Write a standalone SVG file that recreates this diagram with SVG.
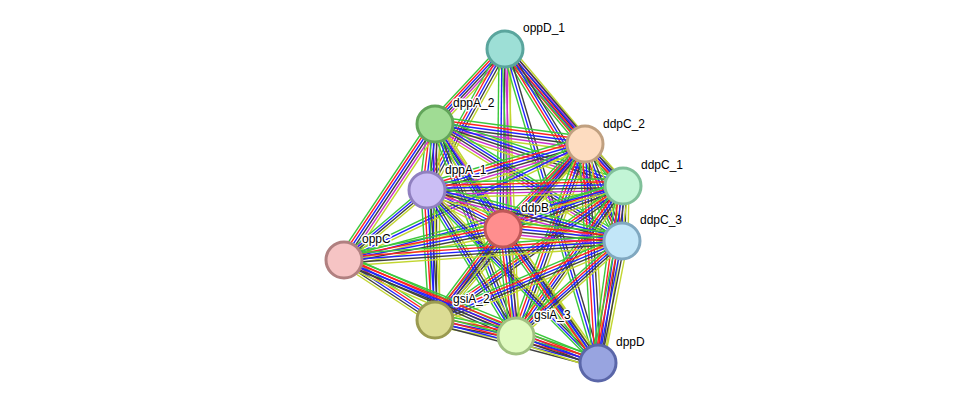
<svg xmlns="http://www.w3.org/2000/svg" width="976" height="409" viewBox="0 0 976 409">
<style>
.g{stroke:#3cc83c}.r{stroke:#ff2222}.b{stroke:#2222ff}.k{stroke:#404040}.m{stroke:#cc33cc}.y{stroke:#c2d630}
.n circle{stroke-width:3}
text{font-family:"Liberation Sans",Arial,sans-serif;font-size:12px;fill:#000;paint-order:stroke;stroke:#fff;stroke-width:3px;stroke-linejoin:round}
</style>
<defs>
<line id="e1" x1="505" y1="49" x2="435" y2="124"/>
<line id="e2" x1="505" y1="49" x2="585" y2="144"/>
<line id="e3" x1="505" y1="49" x2="623" y2="186"/>
<line id="e4" x1="505" y1="49" x2="427" y2="190"/>
<line id="e5" x1="505" y1="49" x2="503" y2="229"/>
<line id="e6" x1="505" y1="49" x2="622" y2="241"/>
<line id="e9" x1="505" y1="49" x2="516" y2="336"/>
<line id="e10" x1="505" y1="49" x2="598" y2="363"/>
<line id="e11" x1="435" y1="124" x2="585" y2="144"/>
<line id="e12" x1="435" y1="124" x2="623" y2="186"/>
<line id="e13" x1="435" y1="124" x2="427" y2="190"/>
<line id="e14" x1="435" y1="124" x2="503" y2="229"/>
<line id="e15" x1="435" y1="124" x2="622" y2="241"/>
<line id="e16" x1="435" y1="124" x2="344" y2="260"/>
<line id="e17" x1="435" y1="124" x2="435" y2="320"/>
<line id="e18" x1="435" y1="124" x2="516" y2="336"/>
<line id="e19" x1="435" y1="124" x2="598" y2="363"/>
<line id="e20" x1="585" y1="144" x2="623" y2="186"/>
<line id="e21" x1="585" y1="144" x2="427" y2="190"/>
<line id="e22" x1="585" y1="144" x2="503" y2="229"/>
<line id="e23" x1="585" y1="144" x2="622" y2="241"/>
<line id="e24" x1="585" y1="144" x2="344" y2="260"/>
<line id="e25" x1="585" y1="144" x2="435" y2="320"/>
<line id="e26" x1="585" y1="144" x2="516" y2="336"/>
<line id="e27" x1="585" y1="144" x2="598" y2="363"/>
<line id="e28" x1="623" y1="186" x2="427" y2="190"/>
<line id="e29" x1="623" y1="186" x2="503" y2="229"/>
<line id="e30" x1="623" y1="186" x2="622" y2="241"/>
<line id="e31" x1="623" y1="186" x2="344" y2="260"/>
<line id="e32" x1="623" y1="186" x2="435" y2="320"/>
<line id="e33" x1="623" y1="186" x2="516" y2="336"/>
<line id="e34" x1="623" y1="186" x2="598" y2="363"/>
<line id="e35" x1="427" y1="190" x2="503" y2="229"/>
<line id="e36" x1="427" y1="190" x2="622" y2="241"/>
<line id="e37" x1="427" y1="190" x2="344" y2="260"/>
<line id="e38" x1="427" y1="190" x2="435" y2="320"/>
<line id="e39" x1="427" y1="190" x2="516" y2="336"/>
<line id="e40" x1="427" y1="190" x2="598" y2="363"/>
<line id="e41" x1="503" y1="229" x2="622" y2="241"/>
<line id="e42" x1="503" y1="229" x2="344" y2="260"/>
<line id="e43" x1="503" y1="229" x2="435" y2="320"/>
<line id="e44" x1="503" y1="229" x2="516" y2="336"/>
<line id="e45" x1="503" y1="229" x2="598" y2="363"/>
<line id="e46" x1="622" y1="241" x2="344" y2="260"/>
<line id="e47" x1="622" y1="241" x2="435" y2="320"/>
<line id="e48" x1="622" y1="241" x2="516" y2="336"/>
<line id="e49" x1="622" y1="241" x2="598" y2="363"/>
<line id="e50" x1="344" y1="260" x2="435" y2="320"/>
<line id="e51" x1="344" y1="260" x2="516" y2="336"/>
<line id="e52" x1="344" y1="260" x2="598" y2="363"/>
<line id="e53" x1="435" y1="320" x2="516" y2="336"/>
<line id="e54" x1="435" y1="320" x2="598" y2="363"/>
<line id="e55" x1="516" y1="336" x2="598" y2="363"/>
</defs>
<g id="connectors" fill="none" stroke-width="1.4">
<use href="#e1" class="g" x="-7.5"/><use href="#e1" class="r" x="-4.5"/><use href="#e1" class="b" x="-1.5"/><use href="#e1" class="k" x="1.5"/><use href="#e1" class="m" x="4.5"/><use href="#e1" class="y" x="7.5"/>
<use href="#e2" class="g" x="-7.5"/><use href="#e2" class="r" x="-4.5"/><use href="#e2" class="b" x="-1.5"/><use href="#e2" class="k" x="1.5"/><use href="#e2" class="m" x="4.5"/><use href="#e2" class="y" x="7.5"/>
<use href="#e3" class="g" x="-4.5"/><use href="#e3" class="r" x="-1.5"/><use href="#e3" class="b" x="1.5"/><use href="#e3" class="k" x="4.5"/>
<use href="#e4" class="g" x="-6"/><use href="#e4" class="r" x="-3"/><use href="#e4" class="b" x="0"/><use href="#e4" class="k" x="3"/><use href="#e4" class="y" x="6"/>
<use href="#e5" class="g" x="-6"/><use href="#e5" class="b" x="-3"/><use href="#e5" class="k" x="0"/><use href="#e5" class="m" x="3"/><use href="#e5" class="y" x="6"/>
<use href="#e6" class="g" x="-4.5"/><use href="#e6" class="r" x="-1.5"/><use href="#e6" class="b" x="1.5"/><use href="#e6" class="k" x="4.5"/>
<use href="#e9" class="g" x="-3"/><use href="#e9" class="m" x="0"/><use href="#e9" class="y" x="3"/>
<use href="#e10" class="g" x="-3"/><use href="#e10" class="b" x="0"/><use href="#e10" class="k" x="3"/>
<use href="#e11" class="g" y="-7.5"/><use href="#e11" class="r" y="-4.5"/><use href="#e11" class="b" y="-1.5"/><use href="#e11" class="k" y="1.5"/><use href="#e11" class="m" y="4.5"/><use href="#e11" class="y" y="7.5"/>
<use href="#e12" class="g" y="-6"/><use href="#e12" class="b" y="-3"/><use href="#e12" class="k" y="0"/><use href="#e12" class="m" y="3"/><use href="#e12" class="y" y="6"/>
<use href="#e13" class="g" x="-7.5"/><use href="#e13" class="r" x="-4.5"/><use href="#e13" class="b" x="-1.5"/><use href="#e13" class="k" x="1.5"/><use href="#e13" class="m" x="4.5"/><use href="#e13" class="y" x="7.5"/>
<use href="#e14" class="g" x="-6"/><use href="#e14" class="b" x="-3"/><use href="#e14" class="k" x="0"/><use href="#e14" class="m" x="3"/><use href="#e14" class="y" x="6"/>
<use href="#e15" class="g" y="-6"/><use href="#e15" class="b" y="-3"/><use href="#e15" class="k" y="0"/><use href="#e15" class="m" y="3"/><use href="#e15" class="y" y="6"/>
<use href="#e16" class="g" x="-7.5"/><use href="#e16" class="r" x="-4.5"/><use href="#e16" class="b" x="-1.5"/><use href="#e16" class="k" x="1.5"/><use href="#e16" class="m" x="4.5"/><use href="#e16" class="y" x="7.5"/>
<use href="#e17" class="g" x="-4.5"/><use href="#e17" class="b" x="-1.5"/><use href="#e17" class="k" x="1.5"/><use href="#e17" class="y" x="4.5"/>
<use href="#e18" class="g" x="-4.5"/><use href="#e18" class="b" x="-1.5"/><use href="#e18" class="k" x="1.5"/><use href="#e18" class="y" x="4.5"/>
<use href="#e19" class="g" x="-3"/><use href="#e19" class="b" x="0"/><use href="#e19" class="y" x="3"/>
<use href="#e20" class="g" x="-6"/><use href="#e20" class="r" x="-3"/><use href="#e20" class="b" x="0"/><use href="#e20" class="k" x="3"/><use href="#e20" class="y" x="6"/>
<use href="#e21" class="g" y="-7.5"/><use href="#e21" class="r" y="-4.5"/><use href="#e21" class="b" y="-1.5"/><use href="#e21" class="k" y="1.5"/><use href="#e21" class="m" y="4.5"/><use href="#e21" class="y" y="7.5"/>
<use href="#e22" class="g" x="-7.5"/><use href="#e22" class="r" x="-4.5"/><use href="#e22" class="b" x="-1.5"/><use href="#e22" class="k" x="1.5"/><use href="#e22" class="m" x="4.5"/><use href="#e22" class="y" x="7.5"/>
<use href="#e23" class="g" x="-6"/><use href="#e23" class="r" x="-3"/><use href="#e23" class="b" x="0"/><use href="#e23" class="k" x="3"/><use href="#e23" class="y" x="6"/>
<use href="#e24" class="g" y="-3"/><use href="#e24" class="b" y="0"/><use href="#e24" class="y" y="3"/>
<use href="#e25" class="g" x="-6"/><use href="#e25" class="r" x="-3"/><use href="#e25" class="b" x="0"/><use href="#e25" class="k" x="3"/><use href="#e25" class="y" x="6"/>
<use href="#e26" class="g" x="-6"/><use href="#e26" class="r" x="-3"/><use href="#e26" class="b" x="0"/><use href="#e26" class="k" x="3"/><use href="#e26" class="y" x="6"/>
<use href="#e27" class="g" x="-6"/><use href="#e27" class="r" x="-3"/><use href="#e27" class="b" x="0"/><use href="#e27" class="k" x="3"/><use href="#e27" class="y" x="6"/>
<use href="#e28" class="g" y="-7.5"/><use href="#e28" class="r" y="-4.5"/><use href="#e28" class="b" y="-1.5"/><use href="#e28" class="k" y="1.5"/><use href="#e28" class="m" y="4.5"/><use href="#e28" class="y" y="7.5"/>
<use href="#e29" class="g" y="-6"/><use href="#e29" class="r" y="-3"/><use href="#e29" class="b" y="0"/><use href="#e29" class="k" y="3"/><use href="#e29" class="y" y="6"/>
<use href="#e30" class="g" x="-6"/><use href="#e30" class="r" x="-3"/><use href="#e30" class="b" x="0"/><use href="#e30" class="k" x="3"/><use href="#e30" class="y" x="6"/>
<use href="#e31" class="g" y="-3"/><use href="#e31" class="b" y="0"/><use href="#e31" class="y" y="3"/>
<use href="#e32" class="g" y="-4.5"/><use href="#e32" class="r" y="-1.5"/><use href="#e32" class="b" y="1.5"/><use href="#e32" class="k" y="4.5"/>
<use href="#e33" class="g" x="-6"/><use href="#e33" class="r" x="-3"/><use href="#e33" class="b" x="0"/><use href="#e33" class="k" x="3"/><use href="#e33" class="y" x="6"/>
<use href="#e34" class="g" x="-6"/><use href="#e34" class="r" x="-3"/><use href="#e34" class="b" x="0"/><use href="#e34" class="k" x="3"/><use href="#e34" class="y" x="6"/>
<use href="#e35" class="g" y="-7.5"/><use href="#e35" class="r" y="-4.5"/><use href="#e35" class="b" y="-1.5"/><use href="#e35" class="k" y="1.5"/><use href="#e35" class="m" y="4.5"/><use href="#e35" class="y" y="7.5"/>
<use href="#e36" class="g" y="-6"/><use href="#e36" class="b" y="-3"/><use href="#e36" class="k" y="0"/><use href="#e36" class="m" y="3"/><use href="#e36" class="y" y="6"/>
<use href="#e37" class="g" y="-4.5"/><use href="#e37" class="b" y="-1.5"/><use href="#e37" class="k" y="1.5"/><use href="#e37" class="y" y="4.5"/>
<use href="#e38" class="g" x="-6"/><use href="#e38" class="r" x="-3"/><use href="#e38" class="b" x="0"/><use href="#e38" class="k" x="3"/><use href="#e38" class="y" x="6"/>
<use href="#e39" class="g" x="-4.5"/><use href="#e39" class="b" x="-1.5"/><use href="#e39" class="k" x="1.5"/><use href="#e39" class="y" x="4.5"/>
<use href="#e40" class="g" x="-4.5"/><use href="#e40" class="b" x="-1.5"/><use href="#e40" class="k" x="1.5"/><use href="#e40" class="y" x="4.5"/>
<use href="#e41" class="g" y="-7.5"/><use href="#e41" class="r" y="-4.5"/><use href="#e41" class="b" y="-1.5"/><use href="#e41" class="k" y="1.5"/><use href="#e41" class="m" y="4.5"/><use href="#e41" class="y" y="7.5"/>
<use href="#e42" class="g" y="-6"/><use href="#e42" class="r" y="-3"/><use href="#e42" class="b" y="0"/><use href="#e42" class="k" y="3"/><use href="#e42" class="y" y="6"/>
<use href="#e43" class="g" x="-6"/><use href="#e43" class="r" x="-3"/><use href="#e43" class="b" x="0"/><use href="#e43" class="k" x="3"/><use href="#e43" class="y" x="6"/>
<use href="#e44" class="g" x="-6"/><use href="#e44" class="r" x="-3"/><use href="#e44" class="b" x="0"/><use href="#e44" class="k" x="3"/><use href="#e44" class="y" x="6"/>
<use href="#e45" class="g" x="-6"/><use href="#e45" class="r" x="-3"/><use href="#e45" class="b" x="0"/><use href="#e45" class="k" x="3"/><use href="#e45" class="y" x="6"/>
<use href="#e46" class="g" y="-6"/><use href="#e46" class="r" y="-3"/><use href="#e46" class="b" y="0"/><use href="#e46" class="k" y="3"/><use href="#e46" class="y" y="6"/>
<use href="#e47" class="g" y="-6"/><use href="#e47" class="r" y="-3"/><use href="#e47" class="b" y="0"/><use href="#e47" class="k" y="3"/><use href="#e47" class="y" y="6"/>
<use href="#e48" class="g" y="-6"/><use href="#e48" class="r" y="-3"/><use href="#e48" class="b" y="0"/><use href="#e48" class="k" y="3"/><use href="#e48" class="y" y="6"/>
<use href="#e49" class="g" x="-6"/><use href="#e49" class="r" x="-3"/><use href="#e49" class="b" x="0"/><use href="#e49" class="k" x="3"/><use href="#e49" class="y" x="6"/>
<use href="#e50" class="g" y="-6"/><use href="#e50" class="r" y="-3"/><use href="#e50" class="b" y="0"/><use href="#e50" class="k" y="3"/><use href="#e50" class="y" y="6"/>
<use href="#e51" class="g" y="-6"/><use href="#e51" class="r" y="-3"/><use href="#e51" class="b" y="0"/><use href="#e51" class="k" y="3"/><use href="#e51" class="y" y="6"/>
<use href="#e52" class="g" y="-4.5"/><use href="#e52" class="r" y="-1.5"/><use href="#e52" class="b" y="1.5"/><use href="#e52" class="k" y="4.5"/>
<use href="#e53" class="g" y="-6"/><use href="#e53" class="r" y="-3"/><use href="#e53" class="b" y="0"/><use href="#e53" class="k" y="3"/><use href="#e53" class="y" y="6"/>
<use href="#e54" class="g" y="-4.5"/><use href="#e54" class="r" y="-1.5"/><use href="#e54" class="b" y="1.5"/><use href="#e54" class="k" y="4.5"/>
<use href="#e55" class="g" y="-6"/><use href="#e55" class="r" y="-3"/><use href="#e55" class="b" y="0"/><use href="#e55" class="k" y="3"/><use href="#e55" class="y" y="6"/>
</g>
<g id="oppD_1" class="n"><circle cx="505" cy="49" r="18" fill="#9ddfd6" stroke="#5aa59d"/><text x="523" y="32">oppD_1</text></g>
<g id="dppA_2" class="n"><circle cx="435" cy="124" r="18" fill="#a0dc94" stroke="#62a55a"/><text x="453" y="107">dppA_2</text></g>
<g id="ddpC_2" class="n"><circle cx="585" cy="144" r="18" fill="#fddcc0" stroke="#c0a080"/><text x="603" y="128">ddpC_2</text></g>
<g id="ddpC_1" class="n"><circle cx="623" cy="186" r="18" fill="#c2f5d6" stroke="#80c09a"/><text x="641" y="169">ddpC_1</text></g>
<g id="dppA_1" class="n"><circle cx="427" cy="190" r="18" fill="#cbbef5" stroke="#9080c0"/><text x="445" y="174">dppA_1</text></g>
<g id="ddpB" class="n"><circle cx="503" cy="229" r="18" fill="#ff8e8e" stroke="#c05858"/><text x="521" y="212">ddpB</text></g>
<g id="ddpC_3" class="n"><circle cx="622" cy="241" r="18" fill="#c2e6f8" stroke="#80a8c0"/><text x="640" y="224">ddpC_3</text></g>
<g id="oppC" class="n"><circle cx="344" cy="260" r="18" fill="#f6c4c4" stroke="#b08080"/><text x="362" y="243">oppC</text></g>
<g id="gsiA_2" class="n"><circle cx="435" cy="320" r="18" fill="#dcdc94" stroke="#9a9a50"/><text x="453" y="303">gsiA_2</text></g>
<g id="gsiA_3" class="n"><circle cx="516" cy="336" r="18" fill="#e0fac0" stroke="#a0c080"/><text x="534" y="319">gsiA_3</text></g>
<g id="dppD" class="n"><circle cx="598" cy="363" r="18" fill="#98a4e0" stroke="#5a66a8"/><text x="616" y="346">dppD</text></g>
</svg>
